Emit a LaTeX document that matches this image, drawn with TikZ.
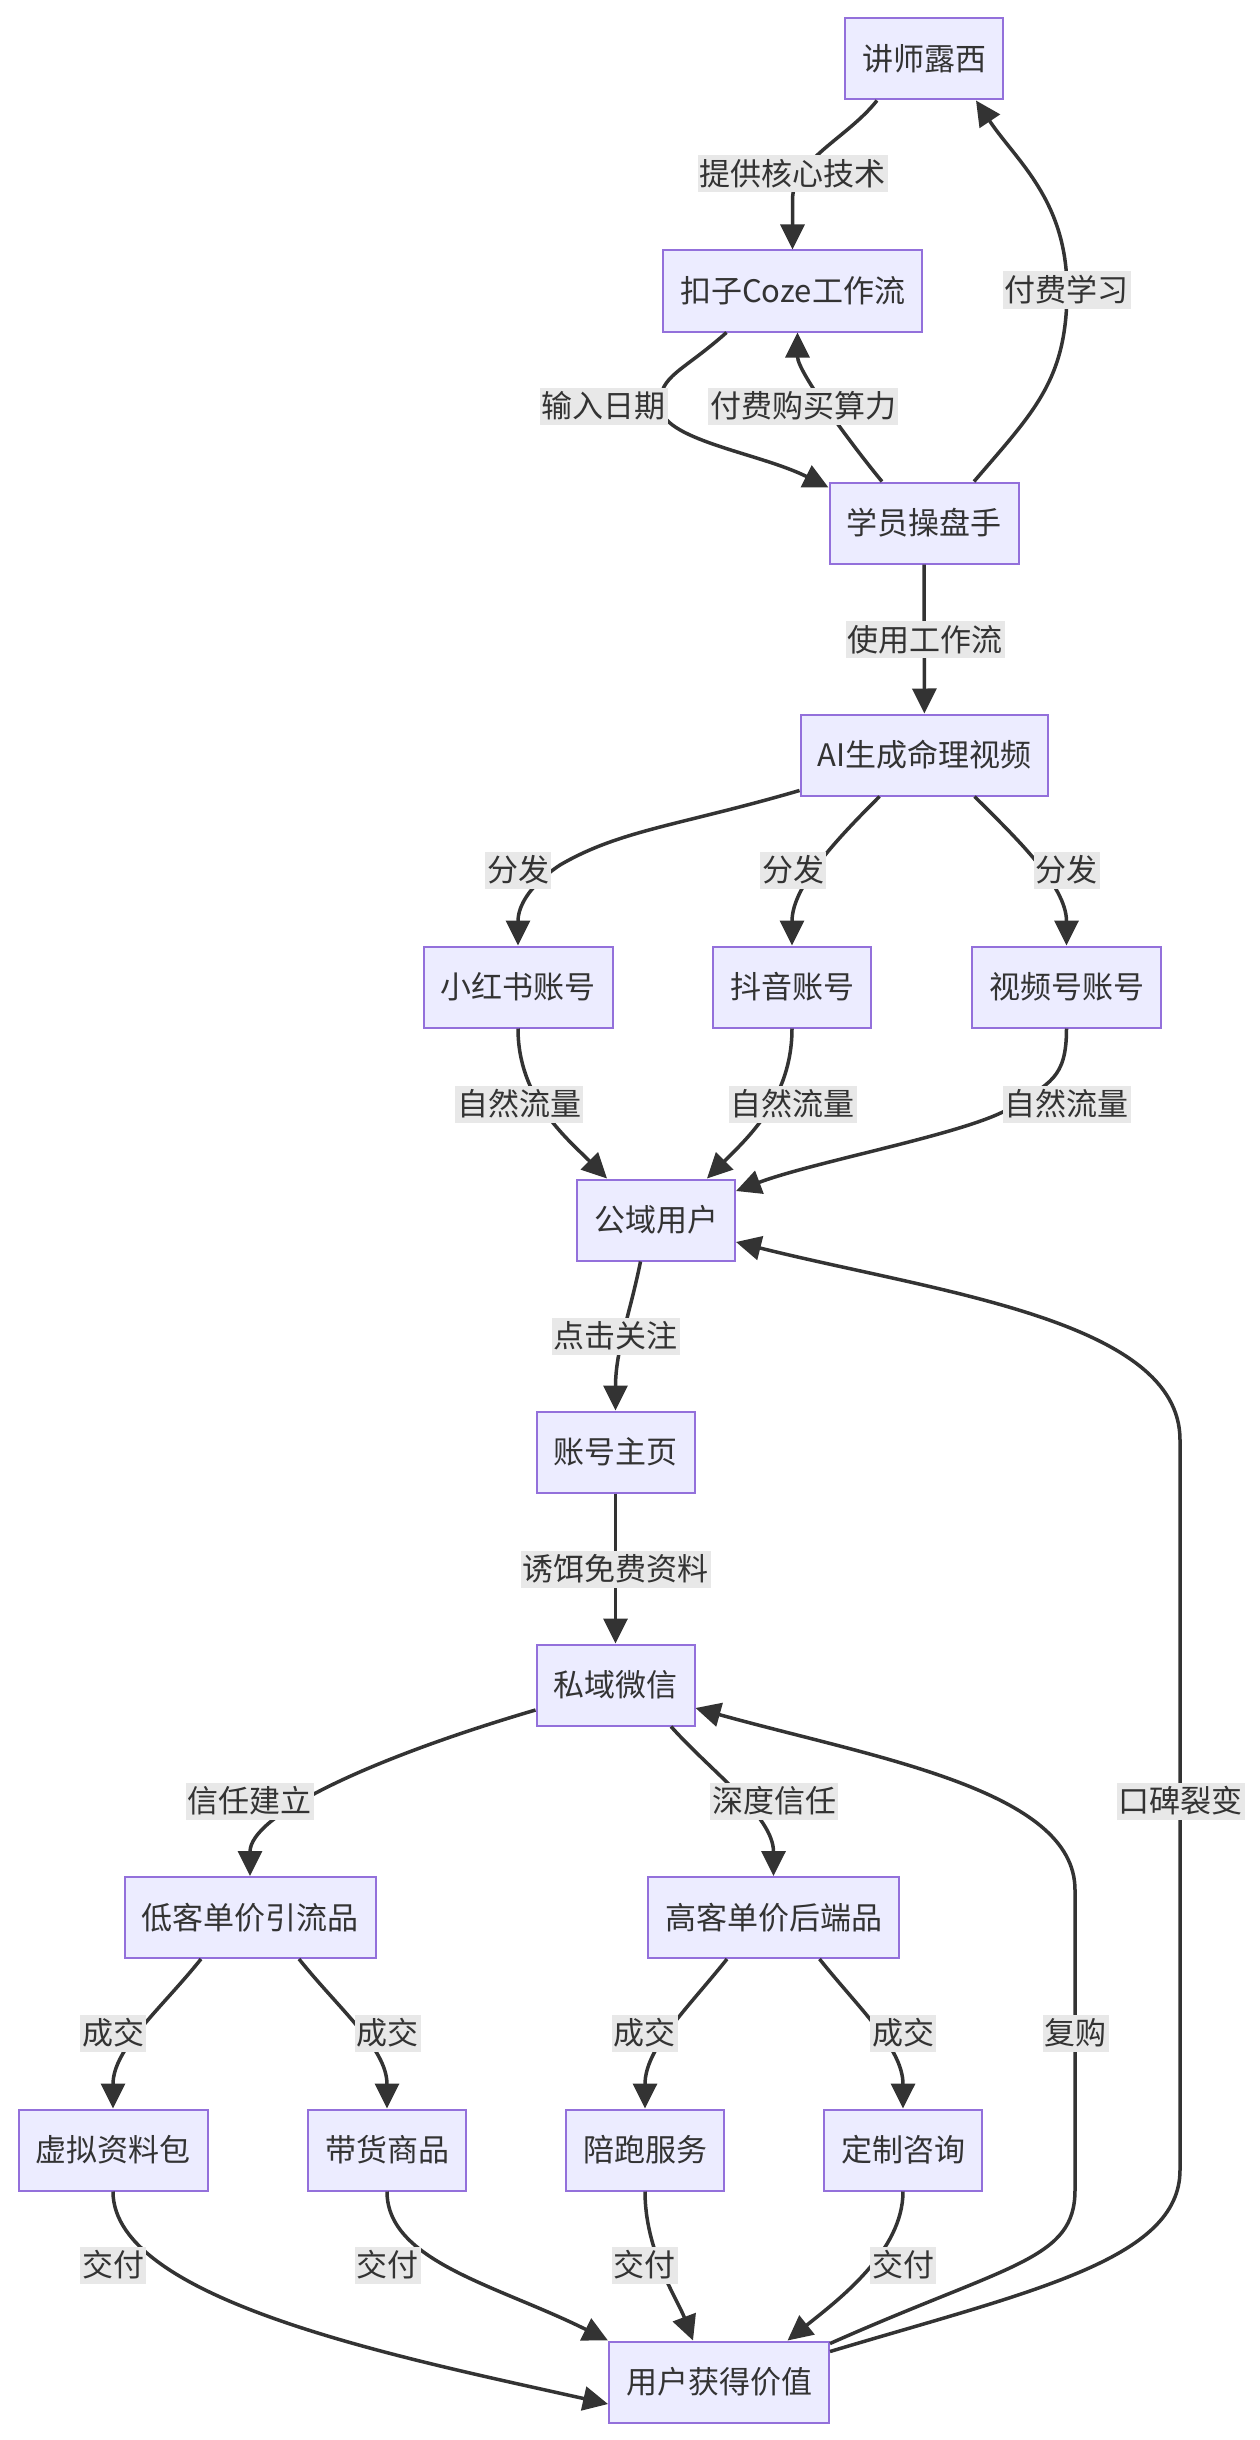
\documentclass[tikz,border=0pt]{standalone}
\usepackage{fontspec}
\setmainfont{Noto Sans CJK SC}
\usetikzlibrary{arrows.meta}
\definecolor{nodefill}{HTML}{ECECFF}
\definecolor{nodeline}{HTML}{9370DB}
\definecolor{edgecol}{HTML}{333333}
\definecolor{lblbg}{HTML}{E8E8E8}
\begin{document}
\begin{tikzpicture}[x=1pt,y=-1pt,
  box/.style={draw=nodeline,fill=nodefill,line width=2pt,minimum height=81pt,inner xsep=17pt,text=edgecol,font=\fontsize{31}{37}\selectfont},
  lbl/.style={fill=lblbg,inner xsep=2pt,inner ysep=0pt,minimum height=37pt,text=edgecol,font=\fontsize{31}{37}\selectfont},
  edge/.style={draw=edgecol,line width=3.5pt,-{Triangle[length=25pt,width=24pt]}}]
\useasboundingbox (0,0) rectangle (1260,2440);
% nodes
\node[box] (lucy) at (924,59) {讲师露西};
\node[box] (coze) at (792.5,291) {扣子Coze工作流};
\node[box] (stu) at (924,523) {学员操盘手};
\node[box] (ai) at (924.5,755) {AI生成命理视频};
\node[box] (xhs) at (518,987) {小红书账号};
\node[box] (dy) at (792,987) {抖音账号};
\node[box] (sph) at (1066.5,987) {视频号账号};
\node[box] (gy) at (656,1220) {公域用户};
\node[box] (zy) at (615.5,1452) {账号主页};
\node[box] (sy) at (615.5,1685) {私域微信};
\node[box] (low) at (250,1917.5) {低客单价引流品};
\node[box] (high) at (773.5,1917.5) {高客单价后端品};
\node[box] (xuni) at (113,2150) {虚拟资料包};
\node[box] (dh) at (387,2150) {带货商品};
\node[box] (pp) at (645,2150) {陪跑服务};
\node[box] (dz) at (903,2150) {定制咨询};
\node[box] (val) at (719,2382) {用户获得价值};
% waypoints
\coordinate (w2) at (1067,290);
\coordinate (w3) at (660,405);
\coordinate (w6) at (560,865);
\coordinate (w11) at (1010,1108);
\coordinate (w24a) at (1075,2190);
\coordinate (w24b) at (1075,1890);
\coordinate (w25a) at (1180,2170);
\coordinate (w25b) at (1180,1440);
% edges
\draw[edge] ([xshift=-47pt]lucy.south) .. controls +(-30,38) and +(0,-40) .. (792.5,200) -- (coze.north);
\draw[edge] ([xshift=50pt]stu.north) .. controls +(60,-70) and +(0,90) .. (w2) .. controls +(0,-90) and +(40,60) .. ([xshift=52pt]lucy.south);
\draw[edge] ([xshift=-66pt]coze.south) .. controls +(-45,40) and +(0,-30) .. (w3) .. controls +(0,35) and +(-70,-35) .. ([yshift=-6pt]stu.north west);
\draw[edge] ([xshift=-42pt]stu.north) .. controls +(-25,-30) and +(0,40) .. ([xshift=5pt]coze.south);
\draw[edge] (stu) -- (ai);
\draw[edge] ([yshift=6pt]ai.south west) .. controls +(-120,35) and +(60,-35) .. (w6) .. controls +(-30,20) and +(0,-40) .. (xhs.north);
\draw[edge] ([xshift=-45pt]ai.south) .. controls +(-40,40) and +(0,-60) .. (dy.north);
\draw[edge] ([xshift=50pt]ai.south) .. controls +(40,40) and +(0,-60) .. (sph.north);
\draw[edge] (xhs.south) .. controls +(0,70) and +(-40,-40) .. ([xshift=-49pt]gy.north);
\draw[edge] (dy.south) .. controls +(0,70) and +(40,-40) .. ([xshift=51pt]gy.north);
\draw[edge] (sph.south) .. controls +(0,50) and +(40,-25) .. (w11) .. controls +(-40,25) and +(80,-30) .. ([yshift=29pt]gy.east);
\draw[edge] ([xshift=-15.5pt]gy.south) .. controls +(-10,50) and +(0,-60) .. (zy.north);
\draw[edge] (zy) -- (sy);
\draw[edge] ([yshift=-25pt]sy.west) .. controls +(-170,50) and +(0,-60) .. (low.north);
\draw[edge] ([xshift=55.5pt]sy.south) .. controls +(40,45) and +(0,-60) .. (high.north);
\draw[edge] ([xshift=-49pt]low.south) .. controls +(-40,50) and +(0,-60) .. (xuni.north);
\draw[edge] ([xshift=49pt]low.south) .. controls +(40,50) and +(0,-60) .. (dh.north);
\draw[edge] ([xshift=-46.5pt]high.south) .. controls +(-40,50) and +(0,-60) .. (pp.north);
\draw[edge] ([xshift=46pt]high.south) .. controls +(40,50) and +(0,-60) .. (dz.north);
\draw[edge] (xuni.south) .. controls +(0,110) and +(-200,-45) .. ([yshift=-22pt]val.west);
\draw[edge] (dh.south) .. controls +(0,70) and +(-110,-55) .. (val.north west);
\draw[edge] (pp.south) .. controls +(0,60) and +(-15,-40) .. ([xshift=-26pt]val.north);
\draw[edge] (dz.south) .. controls +(0,60) and +(50,-40) .. ([xshift=68.5pt]val.north);
\draw[edge] ([yshift=-3pt]val.north east) .. controls +(180,-80) and +(0,70) .. (w24a) -- (w24b) .. controls +(0,-100) and +(180,50) .. ([yshift=-23pt]sy.east);
\draw[edge] ([yshift=-11pt]val.north east) .. controls +(200,-60) and +(0,90) .. (w25a) -- (w25b) .. controls +(0,-120) and +(200,50) .. ([yshift=-22pt]gy.east);
% labels
\node[lbl] (t1) at (792.5,174) {提供核心技术};
\node[lbl] (t2) at (1066.5,290) {付费学习};
\node[lbl] (t3) at (603.5,406) {输入日期};
\node[lbl] (t4) at (803,406) {付费购买算力};
\node[lbl] (t5) at (925,639.5) {使用工作流};
\node[lbl] (t6) at (518,870) {分发};
\node[lbl] (t7) at (793,870) {分发};
\node[lbl] (t8) at (1066.5,870) {分发};
\node[lbl] (t9) at (519,1104) {自然流量};
\node[lbl] (t10) at (792.5,1104) {自然流量};
\node[lbl] (t11) at (1066.5,1104) {自然流量};
\node[lbl] (t12) at (615.5,1336) {点击关注};
\node[lbl] (t13) at (615.5,1569) {诱饵免费资料};
\node[lbl] (t14) at (249.5,1801) {信任建立};
\node[lbl] (t15) at (774,1801) {深度信任};
\node[lbl] (t25) at (1180.5,1801) {口碑裂变};
\node[lbl] (t16) at (113,2033) {成交};
\node[lbl] (t17) at (387.5,2033) {成交};
\node[lbl] (t18) at (644.5,2033) {成交};
\node[lbl] (t19) at (903,2033) {成交};
\node[lbl] (t24) at (1075.5,2033) {复购};
\node[lbl] (t20) at (113,2265) {交付};
\node[lbl] (t21) at (387.5,2265) {交付};
\node[lbl] (t22) at (644.5,2265) {交付};
\node[lbl] (t23) at (903,2265) {交付};
\end{tikzpicture}
\end{document}
